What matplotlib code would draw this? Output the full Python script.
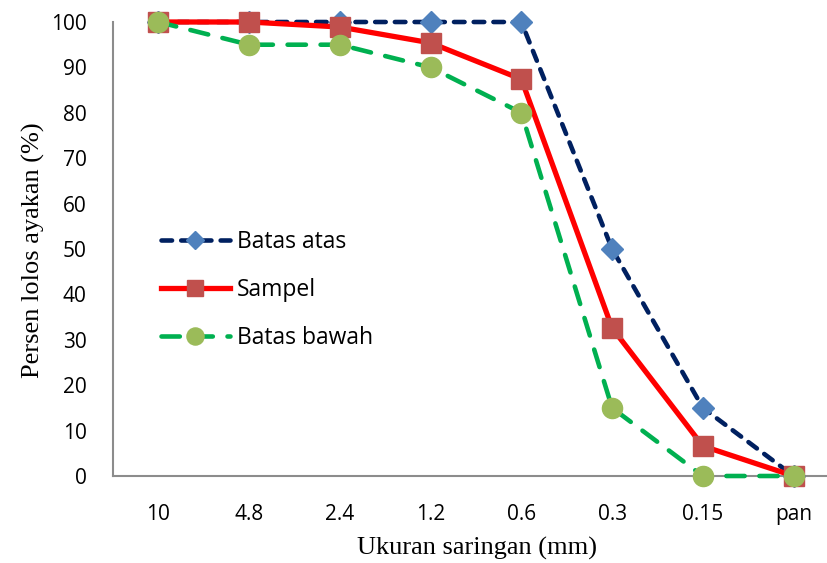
import matplotlib
matplotlib.use('Agg')
import matplotlib.pyplot as plt

# data
ukuran = ['10', '4.8', '2.4', '1.2', '0.6', '0.3', '0.15', 'pan']
batas_atas = [100, 100, 100, 100, 100, 50, 15, 0]
sampel = [100, 100, 98.9, 95.4, 87.4, 32.6, 6.6, 0]
batas_bawah = [100, 95, 95, 90, 80, 15, 0, 0]
y_ticks = list(range(0, 101, 10))

W, H = 827, 563
fig = plt.figure(figsize=(W / 100, H / 100), dpi=100)
ax = fig.add_axes([113 / W, (H - 476) / H, (839 - 113) / W, (476 - 22) / H])

x = list(range(len(ukuran)))
ax.plot(x, batas_atas, color='#002060', lw=3.3, ls=(0, (2.3, 2.0)), dash_capstyle='round',
        marker='D', ms=11, mfc='#4F81BD', mec='#4F81BD', label='Batas atas', clip_on=False, zorder=3)
ax.plot(x, sampel, color='#FF0000', lw=3.8, marker='s', ms=14, mfc='#C0504D', mec='#C0504D',
        label='Sampel', clip_on=False, zorder=4)
ax.plot(x, batas_bawah, color='#00B050', lw=3.3, ls=(0, (4, 3.2)), dash_capstyle='round',
        marker='o', ms=14.5, mfc='#9BBB59', mec='#9BBB59', label='Batas bawah', clip_on=False, zorder=5)

ax.set_xlim(-0.5, 7.5)
ax.set_ylim(0, 100)
ax.set_xticks(x)
ax.set_xticklabels(ukuran)
ax.set_yticks(y_ticks)

for lab in ax.get_xticklabels() + ax.get_yticklabels():
    lab.set_fontfamily('Open Sans')
    lab.set_fontsize(15)
ax.tick_params(axis='both', length=0, colors='black')
ax.tick_params(axis='x', pad=20)
ax.tick_params(axis='y', pad=19)

for s in ['top', 'right']:
    ax.spines[s].set_visible(False)
for s in ['left', 'bottom']:
    ax.spines[s].set_color('#8C8C8C')
    ax.spines[s].set_linewidth(1.5)

ax.set_xlabel('Ukuran saringan (mm)', family='Liberation Serif', fontsize=19, va='center')
ax.set_ylabel('Persen lolos ayakan (%)', family='Liberation Serif', fontsize=19, va='center')
ax.xaxis.set_label_coords((477 - 113) / (839 - 113), -(548 - 476) / (476 - 22))
ax.yaxis.set_label_coords(-(113 - 33) / (839 - 113), (476 - 250) / (476 - 22))

leg = ax.legend(loc='upper left', bbox_to_anchor=(48 / 726, (476 - 230) / 454), frameon=False,
                prop={'family': 'Open Sans', 'size': 16.5}, handlelength=3.0, labelspacing=1.05,
                handletextpad=0.3, borderaxespad=0, borderpad=0, markerscale=0.85)

fig.savefig('out.png', dpi=100)
